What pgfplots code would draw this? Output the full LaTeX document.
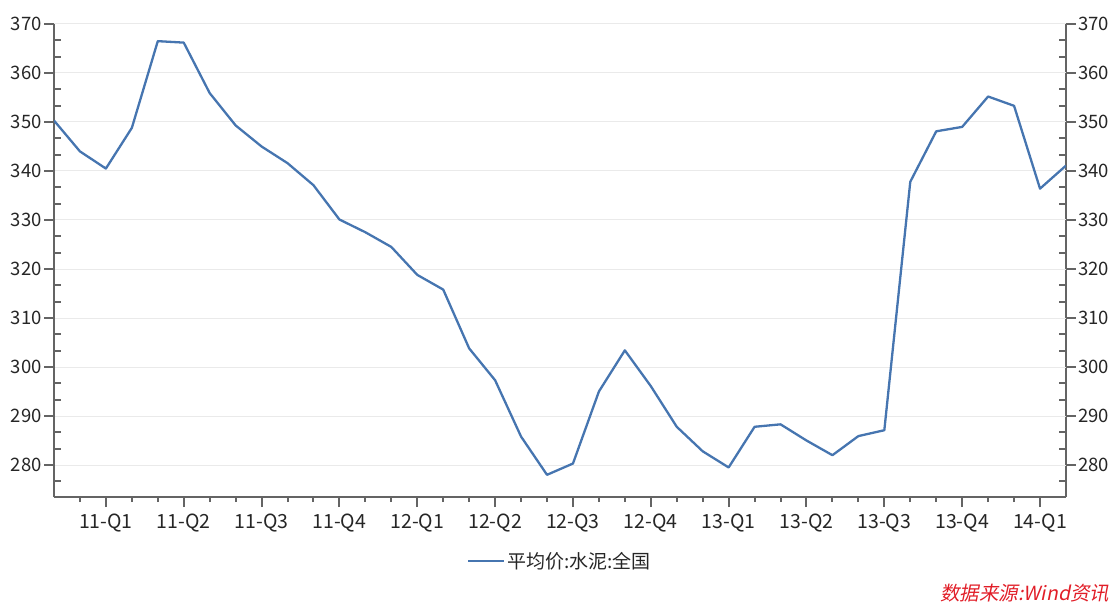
\documentclass[border=0pt]{standalone}
\usepackage{pgfplots}
\pgfplotsset{compat=1.18}
\usepackage{fontspec}
\setmainfont{Noto Sans CJK SC}
\newfontfamily\srcfont[FakeSlant=0.2]{Noto Sans CJK SC}
\definecolor{linec}{RGB}{70,117,176}
\definecolor{axisgray}{RGB}{100,100,100}
\definecolor{gridgray}{RGB}{234,234,234}
\definecolor{srcred}{RGB}{225,30,40}
\pgfplotsset{
  common/.style={
    at={(54pt,106pt)}, anchor=south west,
    scale only axis, width=1012pt, height=473pt,
    xmin=0, xmax=39, ymin=273.47, ymax=370,
    axis line style={draw=axisgray, line width=2.5pt},
    tick style={draw=axisgray, line width=2pt},
    /pgf/number format/assume math mode=true,
    yticklabel style={font=\fontsize{18.5pt}{21pt}\selectfont, text=black!85},
    xticklabel style={font=\fontsize{19.5pt}{22pt}\selectfont, text=black!85},
  }
}
\begin{document}
\begin{tikzpicture}
\useasboundingbox (0,0) rectangle (1118pt,603pt);
% minor y ticks, inside, both sides
\begin{axis}[common,
  axis x line=none, axis y line=box,
  ytick={276.6667,283.3333,286.6667,293.3333,296.6667,303.3333,306.6667,313.3333,316.6667,323.3333,326.6667,333.3333,336.6667,343.3333,346.6667,353.3333,356.6667,363.3333,366.6667},
  yticklabels={},
  tick align=inside, major tick length=7pt,
]
\end{axis}
% right axis
\begin{axis}[common,
  axis x line=none, axis y line*=right,
  ytick={280,290,...,370},
  tick align=outside, major tick length=10pt,
  yticklabel style={inner sep=2pt},
]
\end{axis}
% main axis
\begin{axis}[common,
  axis lines*=left,
  xtick={2,5,...,38},
  xticklabels={11-Q1,11-Q2,11-Q3,11-Q4,12-Q1,12-Q2,12-Q3,12-Q4,13-Q1,13-Q2,13-Q3,13-Q4,14-Q1},
  minor xtick={1,3,4,6,7,9,10,12,13,15,16,18,19,21,22,24,25,27,28,30,31,33,34,36,37},
  ytick={280,290,...,370},
  tick align=outside, major tick length=10pt, minor tick length=5pt,
  ymajorgrids, grid style={draw=gridgray, line width=1pt},
  yticklabel style={inner sep=2pt},
  xticklabel style={yshift=-3pt},
  legend style={at={(0.5,-0.1353)}, anchor=center, draw=none, fill=none,
    font=\fontsize{19pt}{22pt}\selectfont, text=black!85},
  legend image code/.code={\draw[#1] (0pt,0pt) -- (36pt,0pt);},
]
\addplot[color=linec, line width=2.3pt, line join=round] coordinates {
(0,350.3) (1,344.0) (2,340.5) (3,348.8) (4,366.5) (5,366.2) (6,355.9) (7,349.3)
(8,345.0) (9,341.6) (10,337.1) (11,330.1) (12,327.5) (13,324.5) (14,318.8) (15,315.8)
(16,303.8) (17,297.3) (18,285.8) (19,278.0) (20,280.3) (21,295.0) (22,303.4) (23,296.1)
(24,287.8) (25,282.8) (26,279.5) (27,287.8) (28,288.3) (29,285.0) (30,282.0) (31,285.9)
(32,287.1) (33,337.8) (34,348.1) (35,349.0) (36,355.2) (37,353.3) (38,336.4) (39,341.1)
};
\addlegendentry{平均价:水泥:全国}
\end{axis}
\node[anchor=base west, inner sep=0pt, text=srcred, font={\srcfont\fontsize{19.5pt}{22pt}\selectfont}] at (940pt,3pt) {数据来源:Wind资讯};
\end{tikzpicture}
\end{document}
